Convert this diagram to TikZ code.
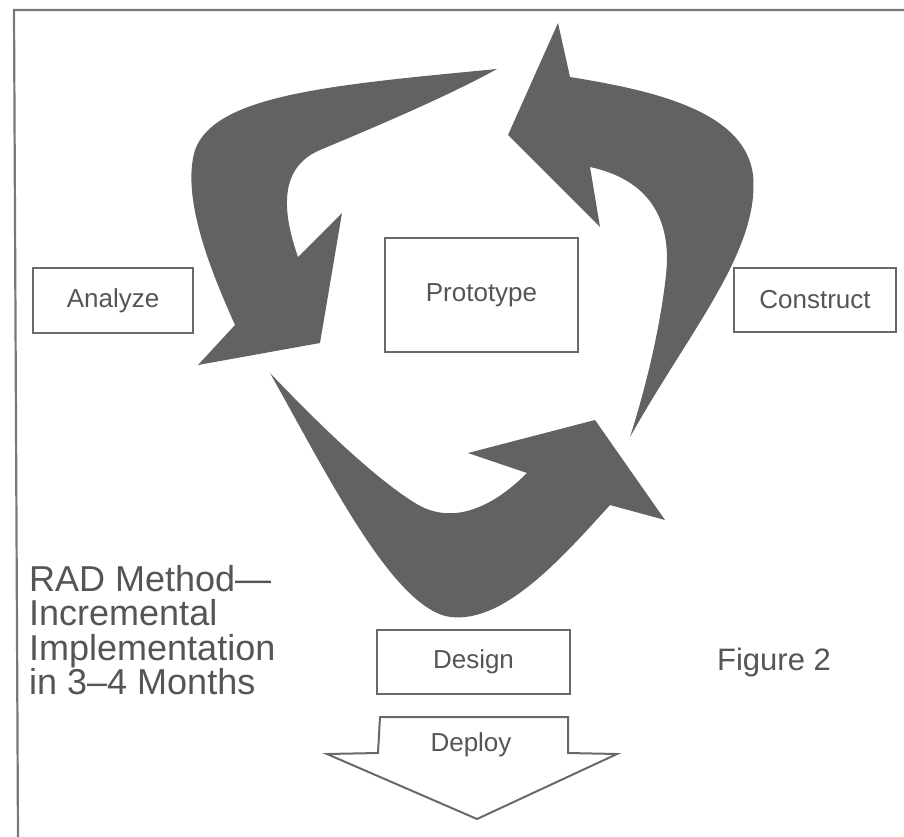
\documentclass[tikz,border=0pt]{standalone}
\usepackage{fontspec}
\setmainfont{Liberation Sans}
\definecolor{arrowgray}{RGB}{98,98,98}
\definecolor{linegray}{RGB}{105,105,105}
\definecolor{textgray}{RGB}{85,85,85}
\definecolor{framegray}{RGB}{120,120,120}
\begin{document}
\begin{tikzpicture}[x=1pt,y=-1pt,
  box/.style={draw=linegray, line width=2pt, inner sep=0pt, text=textgray,
              font=\fontsize{26}{31}\selectfont},
  flow/.style={fill=arrowgray, draw=none},
  caption/.style={text=textgray, inner sep=0pt}]
\useasboundingbox (0,0) rectangle (904,837);

% frame (top and left edges)
\draw[framegray, line width=2.2pt] (904,10) -- (14,10) -- (18,837);

% curved cycle arrows
% top-left arrow, pointing down-left
\fill[flow] (497,69) .. controls (330,85) and (215,95) .. (195,150)
  .. controls (180,200) and (215,280) .. (235,325)
  -- (198,365) -- (320,343) -- (342,213) -- (298,257)
  .. controls (278,200) and (285,165) .. (320,150)
  .. controls (380,125) and (450,95) .. (497,69) -- cycle;
% right arrow, pointing up-left
\fill[flow] (558,23) -- (508,135) -- (600,227) -- (590,167)
  .. controls (650,180) and (672,220) .. (666,275)
  .. controls (660,330) and (645,390) .. (630,437)
  .. controls (690,330) and (760,250) .. (753,175)
  .. controls (745,110) and (650,90) .. (570,77) -- cycle;
% bottom arrow, pointing up-right
\fill[flow] (270,373) .. controls (330,480) and (390,600) .. (445,616)
  .. controls (500,628) and (560,560) .. (610,505)
  -- (665,520) -- (595,420) -- (468,453) -- (527,473)
  .. controls (490,510) and (450,525) .. (415,503)
  .. controls (370,475) and (310,415) .. (270,373) -- cycle;

% phase boxes
\node[box, minimum width=160pt, minimum height=65pt] (analyze) at (113,300.5) {Analyze};
\node[box, minimum width=193pt, minimum height=114pt] (prototype) at (481.5,295) {Prototype};
\node[box, minimum width=162pt, minimum height=64pt] (construct) at (815,300) {Construct};
\node[box, minimum width=193pt, minimum height=64pt] (design) at (473.5,662) {Design};

% deploy block arrow
\draw[linegray, line width=2pt, fill=white, line join=miter]
  (380,717) -- (568,717) -- (568,753) -- (617,754) -- (477,819)
  -- (327,754) -- (378,753) -- cycle;
\node[caption, font=\fontsize{26}{31}\selectfont] (deploy) at (471,745) {Deploy};

% captions
\node[caption, anchor=north west, align=left,
      font=\fontsize{36}{34.5}\selectfont] (title) at (29,565)
  {RAD Method—\\Incremental\\Implementation\\in 3–4 Months};
\node[caption, font=\fontsize{31}{34}\selectfont] (fig) at (774,662) {Figure 2};
\end{tikzpicture}
\end{document}
